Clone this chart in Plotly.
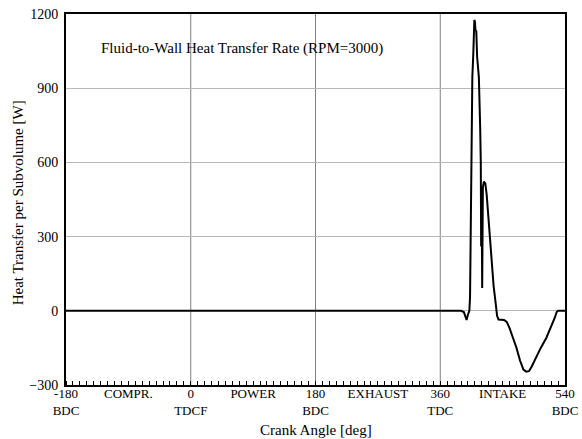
import plotly.graph_objects as go

crank_angle = [-180, 390, 394, 396, 398, 400, 402, 403, 404.4, 406.3, 407.7, 409.2, 410, 410.8, 412, 413.2,
               415.7, 417.6, 418.5, 419, 419.7, 420.5, 421.5, 423, 425, 427, 429, 431, 434, 437, 440,
               442, 444, 452, 456, 460, 465, 470, 475, 480, 484, 488, 492, 498, 505, 513, 520, 525,
               528, 530, 540]
heat_rate = [0, 0, -5, -25, -37, -15, 0, 57, 600, 945, 1040, 1176, 1170, 1135, 1130, 1027,
             945, 743, 600, 260, 480, 92, 500, 522, 515, 470, 400, 330, 200, 100, 30,
             -20, -35, -37, -45, -70, -110, -150, -200, -238, -246, -244, -225, -187, -150, -110, -65, -30,
             -5, 0, 0]

tick_vals = [-180, -90, 0, 90, 180, 270, 360, 450, 540]
tick_text = ["-180<br>BDC", "COMPR.", "0<br>TDCF", "POWER", "180<br>BDC", "EXHAUST",
             "360<br>TDC", "INTAKE", "540<br>BDC"]
grid_x = [0, 180, 360]
y_ticks = [-300, 0, 300, 600, 900, 1200]

font = "Liberation Serif, Times New Roman, serif"

fig = go.Figure()
fig.add_trace(go.Scatter(x=crank_angle, y=heat_rate, mode="lines",
                         line=dict(color="black", width=2), showlegend=False))

shapes = []
for gx in grid_x:
    shapes.append(dict(type="line", xref="x", yref="paper", x0=gx, x1=gx, y0=0, y1=1,
                       line=dict(color="#808080", width=1), layer="below"))

fig.update_layout(
    width=582, height=439,
    margin=dict(l=66, r=17, t=14, b=54),
    paper_bgcolor="white", plot_bgcolor="white",
    font=dict(family=font, size=13, color="black"),
    shapes=shapes,
    annotations=[
        dict(text="Fluid-to-Wall Heat Transfer Rate (RPM=3000)", xref="paper", yref="paper",
             x=0.352, y=0.906, yanchor="middle", showarrow=False, font=dict(family=font, size=15)),
        dict(text="Crank Angle [deg]", xref="paper", yref="paper", x=0.5, y=-0.121,
             yanchor="middle", showarrow=False, font=dict(family=font, size=15)),
        dict(text="Heat Transfer per Subvolume [W]", xref="paper", yref="paper", x=-0.096, y=0.49,
             xanchor="center", yanchor="middle", textangle=-90, showarrow=False,
             font=dict(family=font, size=15)),
    ],
)
fig.update_xaxes(range=[-180, 540], tickmode="array", tickvals=tick_vals, ticktext=tick_text,
                 ticks="", showgrid=False, zeroline=False, automargin=False,
                 showline=True, linecolor="black", linewidth=2, mirror=True,
                 ticklabelstandoff=-5,
                 minor=dict(dtick=10, tick0=-180, ticks="inside", ticklen=4, tickcolor="black", showgrid=False),
                 tickfont=dict(size=13))
fig.update_yaxes(range=[-300, 1200], tickmode="array", tickvals=y_ticks,
                 ticks="", showgrid=True, gridcolor="#b8b8b8", gridwidth=1, zeroline=False,
                 automargin=False, ticklabelstandoff=3,
                 showline=True, linecolor="black", linewidth=2, mirror=True,
                 tickfont=dict(size=14))

fig.write_html("out.html")
